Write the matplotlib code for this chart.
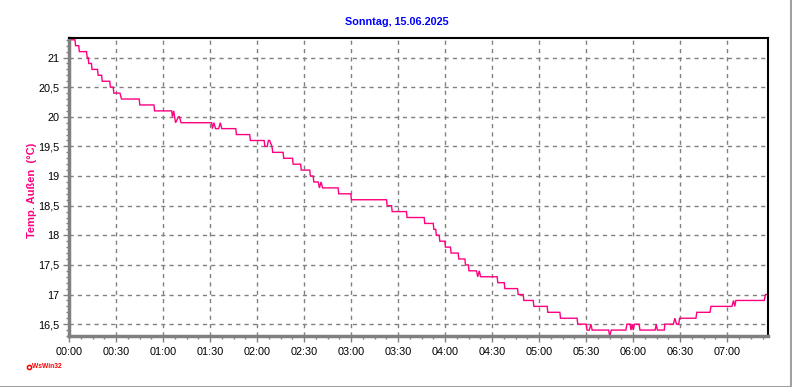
import matplotlib
matplotlib.use("Agg")
import matplotlib.pyplot as plt
from matplotlib.ticker import MultipleLocator, FuncFormatter
from matplotlib.lines import Line2D

# Time in minutes after 00:00, temperature in °C (polyline vertices)
minutes = [0, 3.8, 4.2, 6.2, 6.6, 11.2, 11.6, 12.2, 12.6, 14.3, 14.7, 18.2, 18.6, 20.8, 21.2,
           26.0, 26.4, 28.2, 28.6, 32.5, 33.5, 44.8, 45.2, 54.2, 54.6, 65.5, 66.0, 66.8, 68.0,
           69.8, 70.5, 71.5, 91.0, 91.5, 92.5, 93.5, 95.5, 96.5, 97.5, 106.4, 106.8, 115.3, 115.7,
           124.5, 125.0, 126.5, 127.2, 128.0, 129.5, 130.0, 136.6, 137.0, 142.6, 143.0, 147.8,
           148.2, 153.6, 154.0, 155.8, 156.2, 159.0, 159.8, 160.8, 161.8, 171.7, 172.1, 179.8,
           180.2, 202.6, 203.0, 205.8, 206.2, 215.3, 215.7, 226.6, 227.0, 232.4, 232.8, 234.0,
           234.4, 236.2, 236.6, 239.8, 240.2, 243.4, 243.8, 248.3, 248.7, 252.6, 253.0, 254.8,
           255.2, 260.0, 260.8, 261.8, 262.6, 273.2, 273.6, 277.7, 278.1, 286.2, 286.6, 289.8,
           290.2, 296.2, 296.6, 305.1, 305.5, 313.2, 313.6, 324.2, 324.6, 330.0, 330.5, 332.0,
           333.0, 333.8, 344.3, 345.0, 346.0, 355.3, 356.0, 358.0, 358.6, 359.3, 360.0, 360.8,
           363.7, 364.3, 374.0, 374.7, 375.4, 379.8, 380.2, 385.6, 386.6, 387.6, 389.0, 389.6,
           400.0, 400.6, 409.0, 409.6, 423.0, 424.0, 424.8, 425.5, 443.6, 444.4, 446.0]
temps = [21.3, 21.3, 21.2, 21.2, 21.1, 21.1, 21.0, 21.0, 20.9, 20.9, 20.8, 20.8, 20.7, 20.7, 20.6,
         20.6, 20.5, 20.5, 20.4, 20.4, 20.3, 20.3, 20.2, 20.2, 20.1, 20.1, 20.0, 20.1, 19.9,
         20.0, 20.0, 19.9, 19.9, 19.8, 19.9, 19.8, 19.8, 19.9, 19.8, 19.8, 19.7, 19.7, 19.6,
         19.6, 19.5, 19.5, 19.6, 19.6, 19.5, 19.4, 19.4, 19.3, 19.3, 19.2, 19.2,
         19.1, 19.1, 19.0, 19.0, 18.9, 18.9, 18.8, 18.9, 18.8, 18.8, 18.7, 18.7,
         18.6, 18.6, 18.5, 18.5, 18.4, 18.4, 18.3, 18.3, 18.2, 18.2, 18.1, 18.1,
         18.0, 18.0, 17.9, 17.9, 17.8, 17.8, 17.7, 17.7, 17.6, 17.6, 17.5, 17.5,
         17.4, 17.4, 17.3, 17.4, 17.3, 17.3, 17.2, 17.2, 17.1, 17.1, 17.0, 17.0,
         16.9, 16.9, 16.8, 16.8, 16.7, 16.7, 16.6, 16.6, 16.5, 16.5, 16.4, 16.4,
         16.5, 16.4, 16.4, 16.3, 16.4, 16.4, 16.5, 16.5, 16.4, 16.5, 16.4, 16.5,
         16.5, 16.4, 16.4, 16.5, 16.4, 16.4, 16.5, 16.5, 16.6, 16.5, 16.5, 16.6,
         16.6, 16.7, 16.7, 16.8, 16.8, 16.9, 16.8, 16.9, 16.9, 17.0, 17.0]

title_text = "Sonntag, 15.06.2025"
y_label = "Temp. Außen  (°C)"
credit = "WsWin32"

W, H = 792, 387
fig = plt.figure(figsize=(W / 100, H / 100), dpi=100)
fig.patch.set_facecolor("white")
ax = fig.add_axes([69 / W, 1 - 336 / H, (768 - 69) / W, (336 - 38) / H])

line_color = "#ff0080"
ax.plot(minutes, temps, color=line_color, lw=1.0, solid_joinstyle="miter")

ax.set_xlim(0, 446)
ax.set_ylim(16.3, 21.33)

ax.xaxis.set_major_locator(MultipleLocator(30))
ax.xaxis.set_minor_locator(MultipleLocator(7.5))
ax.yaxis.set_major_locator(MultipleLocator(0.5))
ax.yaxis.set_minor_locator(MultipleLocator(0.1))

ax.xaxis.set_major_formatter(FuncFormatter(lambda v, p: f"{int(round(v)) // 60:02d}:{int(round(v)) % 60:02d}"))


def yfmt(v, p):
    if abs(v - round(v)) < 1e-6:
        return f"{int(round(v))}"
    return f"{v:.1f}".replace(".", ",")


ax.yaxis.set_major_formatter(FuncFormatter(yfmt))

ax.tick_params(axis="both", which="major", length=4, width=1, color="#808080",
               labelsize=7.8, labelcolor="black", direction="out")
ax.tick_params(axis="both", which="minor", length=2, width=1, color="#808080", direction="out")
ax.tick_params(axis="x", pad=4)
ax.tick_params(axis="y", pad=3)
for lab in ax.get_xticklabels() + ax.get_yticklabels():
    lab.set_fontfamily("Liberation Sans")

ax.grid(True, which="major", color="#808080", linestyle=(0, (3, 3)), linewidth=1)

for side in ("left", "bottom"):
    ax.spines[side].set_color("#808080")
    ax.spines[side].set_linewidth(2.5)
for side in ("top", "right"):
    ax.spines[side].set_color("black")
    ax.spines[side].set_linewidth(1.5)

fig.text(397 / W, 1 - 22 / H, title_text, ha="center", va="center",
         color="#0000ff", fontsize=7.8, fontweight="bold", family="Liberation Sans")

fig.text(32 / W, 1 - 190 / H, y_label, ha="center", va="center", rotation=90,
         color=line_color, fontsize=8, fontweight="bold", family="Liberation Sans")

fig.add_artist(Line2D([28.5 / W], [1 - 367 / H], marker="o", markersize=3.0,
                      markerfacecolor="white", markeredgecolor="red", markeredgewidth=1.1,
                      transform=fig.transFigure))
fig.text(32 / W, 1 - 367 / H, credit, ha="left", va="center", color="red",
         fontsize=4.8, fontweight="bold", family="Liberation Sans")

# window frame lines
fig.add_artist(Line2D([0, 1], [0.5 / H, 0.5 / H], color="#a0a0a0", lw=1.5, transform=fig.transFigure))
fig.add_artist(Line2D([1 - 1.5 / W, 1 - 1.5 / W], [0, 1], color="#a0a0a0", lw=1.5, transform=fig.transFigure))

fig.savefig("out.png", dpi=100)
